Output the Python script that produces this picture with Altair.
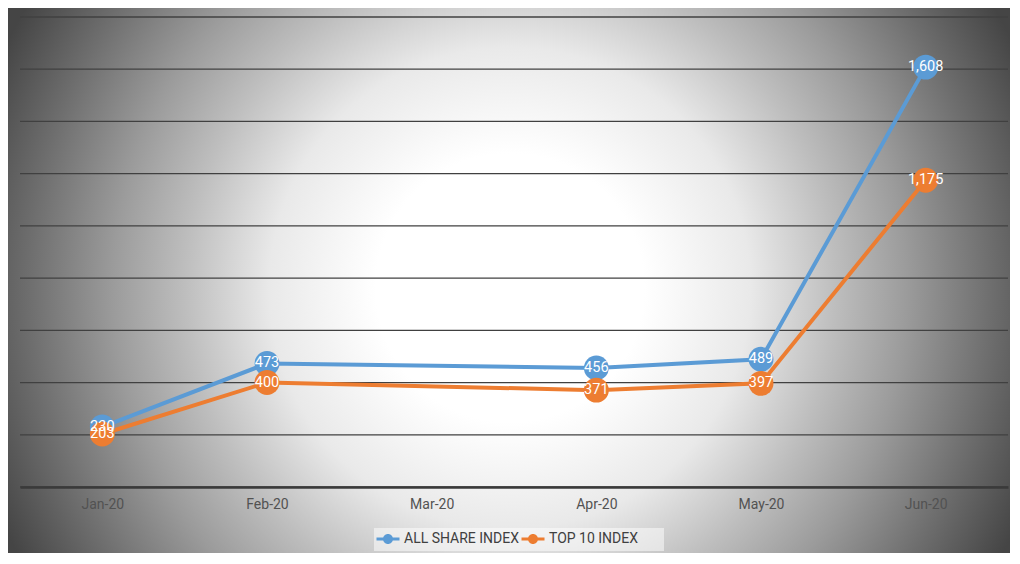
import altair as alt
import pandas as pd

# ---- data ----
months = ["Jan-20", "Feb-20", "Mar-20", "Apr-20", "May-20", "Jun-20"]
data_months = ["Jan-20", "Feb-20", "Apr-20", "May-20", "Jun-20"]
all_share = [230, 473, 456, 489, 1608]
top10 = [203, 400, 371, 397, 1175]
series = ["ALL SHARE INDEX", "TOP 10 INDEX"]
colors = ["#5B9BD5", "#ED7D31"]
y_ticks = [0, 200, 400, 600, 800, 1000, 1200, 1400, 1600, 1800]

rows = []
for s, vals in zip(series, [all_share, top10]):
    for m, v in zip(data_months, vals):
        rows.append({"month": m, "value": v, "series": s})
df = pd.DataFrame(rows)
grid_df = pd.DataFrame({"value": y_ticks})

W, H = 988, 470
FONT = "Roboto"

gradient = {
    "gradient": "radial",
    "x1": 0.496, "y1": 0.497, "r1": 0,
    "x2": 0.496, "y2": 0.497, "r2": 0.553,
    "stops": [
        {"offset": 0.0, "color": "#ffffff"},
        {"offset": 0.24, "color": "#ffffff"},
        {"offset": 0.43, "color": "#e9e9e9"},
        {"offset": 0.58, "color": "#bebebe"},
        {"offset": 0.71, "color": "#9b9b9b"},
        {"offset": 0.86, "color": "#6e6e6e"},
        {"offset": 1.0, "color": "#454545"},
    ],
}

x_enc = alt.X(
    "month:N",
    sort=months,
    scale=alt.Scale(domain=months, type="point", padding=0.5),
    axis=alt.Axis(
        title=None, labelAngle=0, ticks=False, grid=False, zindex=1,
        domain=True, domainColor="#3a3a3a", domainWidth=2.5,
        labelFont=FONT, labelFontSize=14, labelColor="#525252", labelPadding=10,
    ),
)
y_scale = alt.Scale(domain=[0, 1800], nice=False)
y_enc = alt.Y("value:Q", scale=y_scale, axis=None)
color_scale = alt.Scale(domain=series, range=colors)

legend_symbol = "M-2.3,-0.3H2.3V0.3H-2.3Z M-1,0A1,1 0 1,1 1,0A1,1 0 1,1 -1,0Z"

bg = alt.Chart(pd.DataFrame({"bg": [0]})).mark_rect(fill=gradient).encode(
    x=alt.value(-12), x2=alt.value(1000), y=alt.value(-12), y2=alt.value(560)
)

# light box behind the legend
legend_box = alt.Chart(pd.DataFrame({"box": [0]})).mark_rect(
    fill="#ffffff", fillOpacity=0.5
).encode(
    x=alt.value(354), x2=alt.value(644), y=alt.value(511), y2=alt.value(534)
)

grid = alt.Chart(grid_df).mark_rule(color="#404040", strokeWidth=1.3).encode(
    y=alt.Y("value:Q", scale=y_scale, axis=None)
)

lines = alt.Chart(df).mark_line(strokeWidth=4).encode(
    x=x_enc, y=y_enc,
    color=alt.Color("series:N", scale=color_scale),
)

points = alt.Chart(df).mark_circle(size=620, opacity=1).encode(
    x=x_enc, y=y_enc,
    color=alt.Color(
        "series:N", scale=color_scale,
        legend=alt.Legend(
            title=None, orient="none", legendX=354, legendY=511, zindex=1,
            direction="horizontal", symbolType=legend_symbol, symbolSize=100,
            symbolStrokeWidth=0, symbolOpacity=1, symbolOffset=3, labelOffset=9,
            columnPadding=1, padding=4,
            labelFont=FONT, labelFontSize=14, labelColor="#404040",
        ),
    ),
)

labels = alt.Chart(df).mark_text(
    color="white", font=FONT, fontSize=14.5, align="center", baseline="middle"
).encode(
    x=x_enc, y=y_enc, text=alt.Text("value:Q", format=",")
)

chart = (
    alt.layer(bg, legend_box, grid, lines, points, labels)
    .properties(
        width=W, height=H,
        autosize=alt.AutoSizeParams(type="none"),
        padding={"left": 12, "top": 9, "right": 2, "bottom": 66},
    )
    .configure_view(stroke=None)
)

chart.save("out.html", embed_options={"renderer": "svg", "actions": False})
